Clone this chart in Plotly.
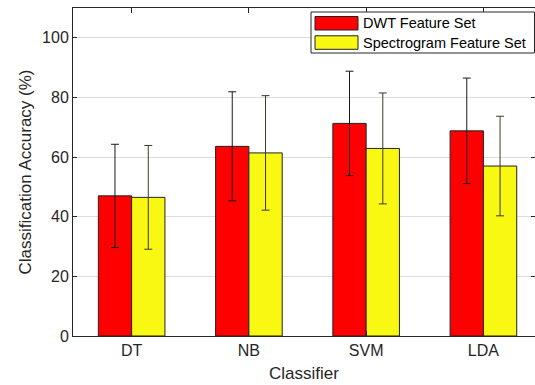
import plotly.graph_objects as go

categories = ["DT", "NB", "SVM", "LDA"]
dwt_mean = [47.0, 63.6, 71.3, 68.8]
dwt_err = [17.3, 18.3, 17.5, 17.7]
spec_mean = [46.5, 61.4, 62.9, 57.0]
spec_err = [17.4, 19.2, 18.6, 16.7]
series_names = ["DWT Feature Set", "Spectrogram Feature Set"]
y_ticks = [0, 20, 40, 60, 80, 100]

W, H = 535, 385
L, R, T, B = 73, 0, 8, 49
pw, ph = W - L - R, H - T - B

def px(x):
    return (x - L) / pw

def py(y):
    return (H - B - y) / ph

FONT = "Liberation Sans, Arial, sans-serif"

fig = go.Figure()
for name, vals, errs, col, ecol in [(series_names[0], dwt_mean, dwt_err, "#ff0000", "#1a1a1a"),
                                    (series_names[1], spec_mean, spec_err, "#f8f812", "#3a3a2a")]:
    fig.add_trace(go.Bar(
        x=list(range(len(categories))), y=vals, name=name,
        marker=dict(color=col, line=dict(color="#222222", width=1)),
        error_y=dict(type="data", array=errs, visible=True, color=ecol,
                     thickness=1, width=4),
        showlegend=False,
    ))

fig.update_layout(
    width=W, height=H, margin=dict(l=L, r=R, t=T, b=B, autoexpand=False),
    barmode="group", bargap=0.432, bargroupgap=0,
    plot_bgcolor="white", paper_bgcolor="white",
    font=dict(family=FONT, size=16, color="#262626"),
    xaxis=dict(range=[-0.5, 3.44], tickvals=list(range(len(categories))),
               ticktext=categories, showline=True, linecolor="#262626",
               linewidth=1, mirror="ticks", ticks="inside", ticklen=5,
               tickcolor="#262626", showgrid=False, zeroline=False,
               automargin=False,
               title=dict(text="Classifier", font=dict(size=17), standoff=8),
               tickfont=dict(size=16)),
    yaxis=dict(range=[0, 110], tickvals=y_ticks, showline=True,
               linecolor="#262626", linewidth=1, mirror="ticks",
               ticks="inside", ticklen=4, tickcolor="#262626",
               showgrid=True, gridcolor="#dcdcdc", gridwidth=1, zeroline=False,
               automargin=False,
               title=dict(text="Classification Accuracy (%)", font=dict(size=17), standoff=6),
               tickfont=dict(size=16)),
)

# custom legend
fig.add_shape(type="rect", xref="paper", yref="paper",
              x0=px(311), x1=px(534.5), y0=py(53), y1=py(12),
              line=dict(color="#262626", width=1), fillcolor="white", layer="above")
for i, (name, col) in enumerate(zip(series_names, ["#ff0000", "#f8f812"])):
    y0 = 16.5 + i * 19.3
    fig.add_shape(type="rect", xref="paper", yref="paper",
                  x0=px(315), x1=px(358), y0=py(y0 + 13.5), y1=py(y0),
                  line=dict(color="#222222", width=1), fillcolor=col, layer="above")
    fig.add_annotation(xref="paper", yref="paper", x=px(361), y=py(y0 + 6.8),
                       text=name, showarrow=False, xanchor="left", yanchor="middle",
                       font=dict(size=14.5, color="#000000", family=FONT))

fig.write_html("out.html", config={"displayModeBar": False},
               post_script="document.body.style.margin='0';document.body.style.overflow='hidden';")
